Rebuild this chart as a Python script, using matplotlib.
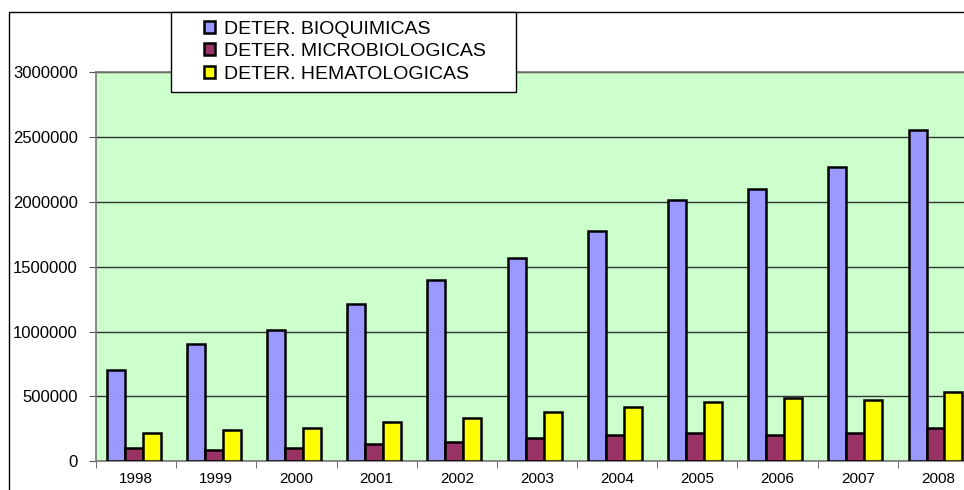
import numpy as np
import matplotlib
matplotlib.use("Agg")
from matplotlib import pyplot as plt
from matplotlib.patches import Rectangle

plt.rcParams['font.family'] = ['Liberation Sans', 'DejaVu Sans']

years = ['1998', '1999', '2000', '2001', '2002', '2003', '2004', '2005', '2006', '2007', '2008']
bioquimicas = [705000, 905000, 1015000, 1215000, 1400000, 1570000, 1775000, 2015000, 2095000, 2265000, 2555000]
microbiologicas = [105000, 90000, 105000, 135000, 150000, 180000, 200000, 215000, 200000, 215000, 260000]
hematologicas = [215000, 245000, 260000, 305000, 335000, 380000, 415000, 460000, 490000, 475000, 535000]

series_names = ['DETER. BIOQUIMICAS', 'DETER. MICROBIOLOGICAS', 'DETER. HEMATOLOGICAS']
colors = ['#9999FF', '#993366', '#FFFF00']

W, H = 964, 490
fig = plt.figure(figsize=(W / 100, H / 100), dpi=100)

# outer chart border (runs off the right / bottom edge like the source)
fig.patches.append(Rectangle((9 / W, -0.1), 1.2, 1 - 12 / H + 0.1, transform=fig.transFigure,
                             fill=False, edgecolor='black', linewidth=1.0, zorder=0))

ax = fig.add_axes([96 / W, 1 - 461.3 / H, (978 - 96) / W, (461.3 - 72) / H])
ax.set_facecolor('#CCFFCC')

x = np.arange(len(years))
w = 0.224
for k, (vals, c, name) in enumerate(zip([bioquimicas, microbiologicas, hematologicas], colors, series_names)):
    ax.bar(x + (k - 1) * w - 0.03, vals, width=w, color=c, edgecolor='black', linewidth=1.8,
           label=name, zorder=3)

ax.set_xlim(-0.5, len(years) - 0.5)
ax.set_ylim(0, 3000000)
ax.set_yticks(np.arange(0, 3000001, 500000))
ax.set_yticklabels([str(v) for v in range(0, 3000001, 500000)], fontsize=12)
ax.yaxis.grid(True, color='#333333', linewidth=1.0, zorder=1)
ax.set_axisbelow(True)

ax.set_xticks(x)
ax.set_xticklabels(years, fontsize=11)
ax.tick_params(axis='x', which='major', length=0, pad=8)
ax.set_xticks(np.arange(-0.5, len(years) - 0.5, 1), minor=True)
ax.tick_params(axis='x', which='minor', length=5, color='#555555', direction='out')
ax.tick_params(axis='y', length=5, color='#555555', pad=8)

for s in ['left', 'bottom', 'top']:
    ax.spines[s].set_color('#777777')
    ax.spines[s].set_linewidth(1.2)
ax.spines['right'].set_visible(False)

# legend box
fig.patches.append(Rectangle((171 / W, 1 - 92 / H), (516 - 171) / W, (92 - 12) / H,
                             transform=fig.transFigure, facecolor='white', edgecolor='black',
                             linewidth=1.0, zorder=5))
leg = fig.legend(loc='upper left', bbox_to_anchor=(190 / W, 1 - 7 / H), frameon=False,
                 fontsize=14, handlelength=0.6, handleheight=0.6, handletextpad=0.45,
                 labelspacing=0.28, borderpad=0.2)
leg.set_zorder(6)

fig.savefig('out.png', dpi=100)
